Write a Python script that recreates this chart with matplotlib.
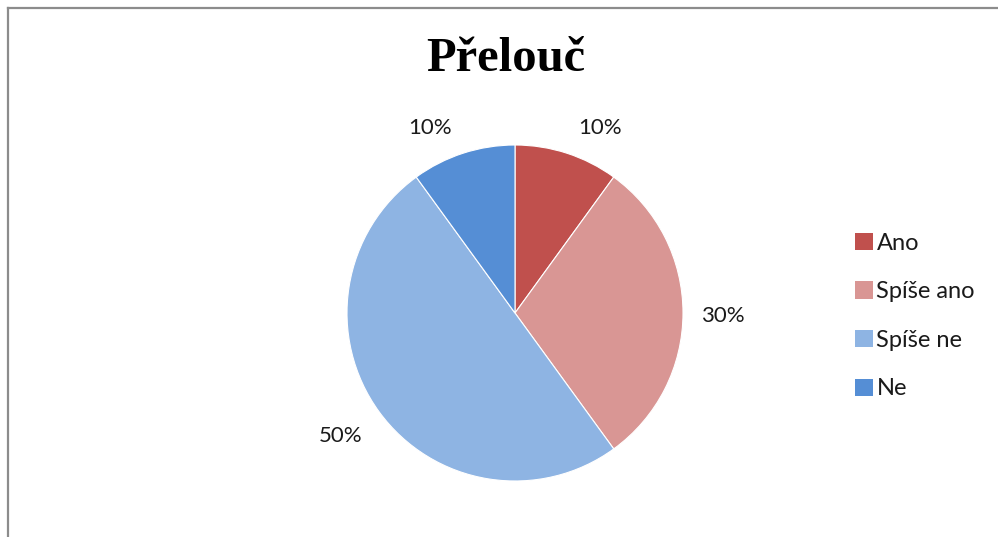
import matplotlib
matplotlib.use("Agg")
import matplotlib.pyplot as plt

labels = ["Ano", "Spíše ano", "Spíše ne", "Ne"]
shares = [10, 30, 50, 10]
colors = ["#C0504D", "#D99694", "#8EB4E3", "#558ED5"]

# where Excel put the percentage labels (in pie-radius units)
label_pos = [(0.506, 1.101), (1.238, -0.018), (-1.036, -0.732), (-0.506, 1.101)]

fig = plt.figure(figsize=(9.98, 5.37), dpi=100)
fig.patch.set_facecolor("white")

# chart frame (cropped on right/bottom like the source)
fig.add_artist(plt.Line2D([8 / 998, 1], [1 - 8 / 537, 1 - 8 / 537],
                          color="#8c8c8c", lw=1.6, transform=fig.transFigure))
fig.add_artist(plt.Line2D([8 / 998, 8 / 998], [0, 1 - 8 / 537],
                          color="#8c8c8c", lw=1.6, transform=fig.transFigure))

# pie: centre ~ (515, 313), radius ~168 px
r = 168
cx, cy = 515, 313
ax = fig.add_axes([(cx - r) / 998, (537 - cy - r) / 537, 2 * r / 998, 2 * r / 537])
wedges, texts, autotexts = ax.pie(
    shares, colors=colors, startangle=90, counterclock=False,
    autopct=lambda p: f"{p:.0f}%", pctdistance=1.2,
    wedgeprops=dict(linewidth=0.8, edgecolor="white"),
    textprops=dict(fontsize=16, family=["Lato", "DejaVu Sans"], color="#1a1a1a"))
ax.set_xlim(-1, 1)
ax.set_ylim(-1, 1)
ax.set_aspect("equal")
for t, pos in zip(autotexts, label_pos):
    t.set_position(pos)
    t.set_clip_on(False)

fig.text(506 / 998, 1 - 59 / 537, "Přelouč", ha="center", va="center",
         fontsize=35, fontweight="bold", family=["Liberation Serif", "DejaVu Serif"])

leg = fig.legend(wedges, labels, loc="center left", bbox_to_anchor=(834 / 998, 1 - 316 / 537),
                 frameon=False, handlelength=0.75, handleheight=0.75, handletextpad=0.15,
                 labelspacing=1.17, prop=dict(family=["Lato", "DejaVu Sans"], size=17))
for h in leg.legend_handles:
    h.set_edgecolor("none")
for t in leg.get_texts():
    t.set_color("#1a1a1a")

fig.savefig("out.png", dpi=100)
